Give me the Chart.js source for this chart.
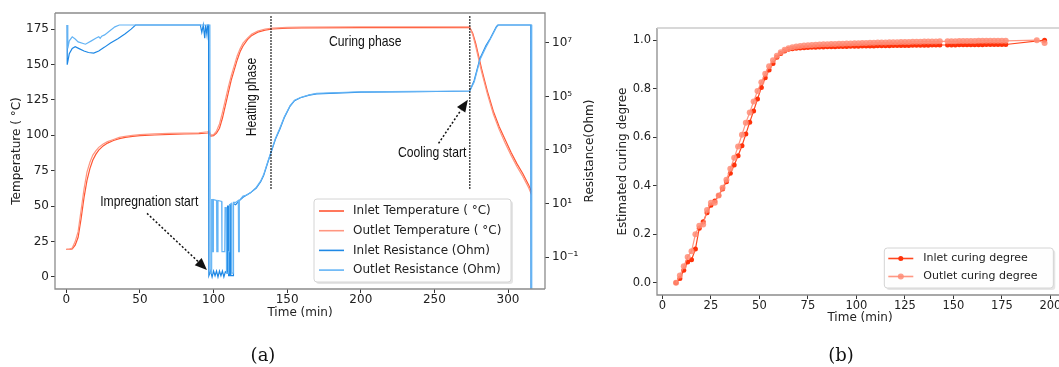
<!DOCTYPE html>
<html>
<head>
<meta charset="utf-8">
<script src="https://cdn.jsdelivr.net/npm/chart.js@4.4.0/dist/chart.umd.min.js"></script>
<style>
  html, body { margin: 0; padding: 0; background: #fff; }
  body { width: 1059px; height: 367px; overflow: hidden; position: relative; }
  #panelA { position: absolute; left: 0; top: 0; width: 600px; height: 367px; }
  #panelB { position: absolute; left: 600px; top: 0; width: 480px; height: 367px; }
  .caption { position: absolute; top: 344px; font-family: 'DejaVu Serif', 'Liberation Serif', serif; font-size: 18px; color: #111; transform: translateX(-50%); }
</style>
</head>
<body>
<div id="panelA"><canvas id="chartA" width="600" height="367"></canvas></div>
<div id="panelB"><canvas id="chartB" width="480" height="367"></canvas></div>
<div class="caption" style="left:263px">(a)</div>
<div class="caption" style="left:841px">(b)</div>
<script>
// ---- (a) temperature, min / deg C ----
const tempTime = [0, 2, 4, 6, 8, 10, 12, 14, 16, 18,
  20, 22, 25, 28, 32, 36, 40, 45, 50, 60,
  70, 80, 90, 96, 97, 98, 100, 102, 104, 106,
  108, 110, 112, 114, 116, 118, 120, 123, 126, 130,
  135, 140, 150, 160, 200, 240, 274, 276, 278, 280,
  282, 284, 286, 290, 294, 298, 302, 306, 310, 314, 316];
const inletTemp = [19.5, 19.5, 19.8, 22.5, 28, 41, 56, 68, 76.5, 82.5,
  86.5, 89.5, 92.5, 94.5, 96.3, 97.6, 98.5, 99.2, 99.7, 100.2,
  100.6, 100.9, 101.2, 101.6, 102, 99.5, 99.8, 101.5, 105, 112,
  121, 130, 139, 146, 153, 159, 163, 167.5, 170.5, 172.8,
  174.2, 175, 175.6, 175.8, 176, 176, 176, 172, 165, 156,
  147, 139, 131, 117, 106, 97, 88, 80, 73, 65, 60];
const outletTemp = [19.5, 19.5, 20.5, 25, 32, 47, 62, 74, 81, 86,
  89, 91.5, 93.8, 95.5, 97, 98.5, 99.3, 100, 100.5, 101,
  101.3, 101.5, 101.8, 102.5, 103, 100.3, 100.5, 103, 108, 116,
  125, 134, 142, 149, 156, 161, 165, 168.5, 171.5, 173.5,
  175, 175.6, 176.2, 176.4, 176.6, 176.6, 176.5, 171, 163, 154,
  145, 137, 129, 115, 104, 94.5, 86, 78, 71, 63, 58];

// ---- (a) resistance, min / Ohm ----
const inletResTime = [0.5, 0.6, 2, 4, 6, 9, 12, 15, 18.6, 22,
  26, 30, 35, 40, 44, 47, 91, 92, 93, 94,
  94.6, 95.5, 96, 96.6, 96.8, 98, 99, 100, 101, 102,
  103, 104, 105, 106, 107, 108, 109.3, 109.5, 110, 110.2,
  110.8, 111, 111.5, 111.7, 113.3, 113.5, 115, 117, 120, 125,
  129, 132, 134, 136.5, 139, 142, 145, 148, 152, 155,
  159, 165, 170, 200, 240, 274, 277, 281, 285, 288,
  292, 293, 315.5, 315.6];
const inletRes = [4.7e7, 1.55e6, 4e6, 6.3e6, 7.2e6, 6e6, 5e6, 4.4e6, 4.2e6, 5e6,
  7e6, 1e7, 1.45e7, 2.2e7, 3.3e7, 4.7e7, 4.7e7, 2.5e7, 4.7e7, 1.5e7,
  4.7e7, 2e7, 4.7e7, 4.7e7, 0.02, 0.03, 0.018, 0.03, 0.02, 0.03,
  0.018, 0.03, 0.02, 0.03, 0.018, 0.028, 0.025, 8, 8, 0.02,
  0.02, 9, 9, 0.02, 0.02, 10, 9, 12, 17, 25,
  38, 65, 110, 300, 800, 2500, 6000, 1.6e4, 4.4e4, 7e4,
  9e4, 1.12e5, 1.26e5, 1.45e5, 1.5e5, 1.6e5, 4e5, 2.7e6, 8e6, 1.5e7,
  4e7, 4.7e7, 4.7e7, 1e-3];
const outletResTime = [0.8, 1, 2, 4, 6, 8, 13, 17, 20, 22,
  23, 24, 26, 30, 33, 36, 97.5, 97.7, 98.5, 98.7,
  99.1, 99.3, 99.7, 99.9, 102, 102.2, 102.8, 103, 105.5, 105.7,
  107.6, 107.8, 108.6, 108.8, 110, 110.2, 110.6, 110.8, 112, 112.3,
  113.2, 113.5, 115, 116.8, 117, 117.3, 117.5, 120, 122, 125,
  129, 132, 134, 136.5, 139, 142, 145, 148, 152, 155,
  159, 165, 170, 200, 240, 274, 277, 281, 285, 288,
  292, 293.5, 316, 316.1];
const outletRes = [4.7e7, 6.3e6, 1.2e7, 1.7e7, 1.4e7, 1.1e7, 9e6, 1.2e7, 1.5e7, 1.7e7,
  1.5e7, 1.8e7, 2e7, 3e7, 4e7, 4.7e7, 4.7e7, 0.025, 0.025, 14,
  14, 0.16, 0.16, 14, 13, 0.16, 0.16, 13, 12, 0.16,
  0.16, 7, 7, 0.025, 0.025, 0.16, 0.16, 9, 10, 0.025,
  0.025, 11, 11, 13, 0.16, 0.16, 13, 19, 20, 25,
  40, 70, 120, 320, 850, 2700, 6500, 1.7e4, 4.6e4, 7.2e4,
  9.2e4, 1.15e5, 1.3e5, 1.5e5, 1.55e5, 1.6e5, 3.5e5, 2.4e6, 7e6, 1.4e7,
  3.8e7, 4.7e7, 4.7e7, 1e-3];

const timeTicksA = [0, 50, 100, 150, 200, 250, 300];
const tempTicks = [0, 25, 50, 75, 100, 125, 150, 175];
const resTicks = [0.1, 10, 1e3, 1e5, 1e7];
const resTickLabels = ['10\u207B\u00B9', '10\u00B9', '10\u00B3', '10\u2075', '10\u2077'];
const phaseLines = [139, 274];

// ---- (b) curing degree ----
const curingTime = [7, 9, 11, 13, 15, 17, 19, 21, 23, 25,
  27, 29, 31, 33, 35, 37, 39, 41, 43, 45,
  47, 49, 51, 53, 55, 57, 59, 61, 63, 65,
  67, 69, 71, 73, 75, 77, 79, 81, 83, 85,
  87, 89, 91, 93, 95, 97, 99, 101, 103, 105,
  107, 109, 111, 113, 115, 117, 119, 121, 123, 125,
  127, 129, 131, 133, 135, 137, 139, 141, 143, 147,
  149, 151, 153, 155, 157, 159, 161, 163, 165, 167,
  169, 171, 173, 175, 177, 193, 197];
const inletCuring = [0.000, 0.018, 0.052, 0.086, 0.095, 0.139, 0.225, 0.252, 0.289, 0.320,
  0.337, 0.360, 0.387, 0.417, 0.452, 0.486, 0.524, 0.565, 0.613, 0.662,
  0.708, 0.757, 0.805, 0.845, 0.877, 0.904, 0.929, 0.945, 0.955, 0.962,
  0.965, 0.967, 0.968, 0.969, 0.970, 0.971, 0.971, 0.972, 0.972, 0.973,
  0.973, 0.973, 0.974, 0.974, 0.974, 0.975, 0.975, 0.975, 0.976, 0.976,
  0.976, 0.976, 0.977, 0.977, 0.977, 0.977, 0.978, 0.978, 0.978, 0.978,
  0.978, 0.979, 0.979, 0.979, 0.979, 0.979, 0.980, 0.980, 0.980, 0.980,
  0.980, 0.980, 0.981, 0.981, 0.981, 0.981, 0.981, 0.981, 0.981, 0.982,
  0.982, 0.982, 0.982, 0.982, 0.982, null, 1.000];
const outletCuring = [0.000, 0.030, 0.068, 0.107, 0.130, 0.200, 0.235, 0.240, 0.300, 0.330,
  0.330, 0.360, 0.392, 0.425, 0.470, 0.515, 0.562, 0.610, 0.660, 0.702,
  0.747, 0.790, 0.827, 0.862, 0.892, 0.917, 0.936, 0.950, 0.960, 0.967,
  0.971, 0.974, 0.976, 0.978, 0.979, 0.980, 0.981, 0.982, 0.983, 0.983,
  0.984, 0.984, 0.985, 0.985, 0.986, 0.986, 0.987, 0.987, 0.988, 0.988,
  0.989, 0.989, 0.990, 0.990, 0.990, 0.991, 0.991, 0.991, 0.992, 0.992,
  0.992, 0.993, 0.993, 0.993, 0.994, 0.994, 0.994, 0.994, 0.995, 0.995,
  0.995, 0.995, 0.996, 0.996, 0.996, 0.996, 0.996, 0.997, 0.997, 0.997,
  0.997, 0.997, 0.997, 0.997, 0.997, 1.000, 0.988];
const timeTicksB = [0, 25, 50, 75, 100, 125, 150, 175, 200];
const curingTicks = [0, 0.2, 0.4, 0.6, 0.8, 1.0];
const curingTickLabels = ['0.0', '0.2', '0.4', '0.6', '0.8', '1.0'];

Chart.defaults.font.family = "'DejaVu Sans', sans-serif";
Chart.defaults.color = '#222';
Chart.defaults.animation = false;

// no narrow face installed, so squeeze Liberation Sans sideways
const noteFont = "14.5px 'Liberation Sans', Arial, sans-serif";
const noteSqueeze = 0.84;

function pairs(xs, ys) {
    return xs.map((x, i) => ({ x: x, y: ys[i] }));
}

function fixedTicks(values) {
    return function (scale) {
        scale.ticks = values.map(v => ({ value: v }));
    };
}

function axisLook(size) {
    return {
        grid: { display: true, drawOnChartArea: false, drawTicks: true, tickLength: 4, tickColor: '#333', color: '#333' },
        border: { display: false },
        ticks: { font: { size: size }, color: '#222', autoSkip: false, maxRotation: 0, padding: 2 }
    };
}

function roundRect(ctx, x, y, w, h, r) {
    ctx.beginPath();
    ctx.moveTo(x + r, y);
    ctx.lineTo(x + w - r, y);
    ctx.arcTo(x + w, y, x + w, y + r, r);
    ctx.lineTo(x + w, y + h - r);
    ctx.arcTo(x + w, y + h, x + w - r, y + h, r);
    ctx.lineTo(x + r, y + h);
    ctx.arcTo(x, y + h, x, y + h - r, r);
    ctx.lineTo(x, y + r);
    ctx.arcTo(x, y, x + r, y, r);
    ctx.closePath();
}

// frame round the plot area plus an in-plot legend
const frameLegend = {
    id: 'frameLegend',
    afterDraw(chart, args, opts) {
        const { ctx, chartArea: a } = chart;
        ctx.save();
        ctx.lineWidth = 1.3;
        ctx.strokeStyle = opts.sideColor;
        ctx.beginPath();
        ctx.moveTo(a.left, a.top); ctx.lineTo(a.left, a.bottom); ctx.lineTo(a.right, a.bottom);
        ctx.stroke();
        ctx.strokeStyle = opts.topColor;
        ctx.beginPath();
        ctx.moveTo(a.left, a.top); ctx.lineTo(a.right, a.top); ctx.lineTo(a.right, a.bottom);
        ctx.stroke();

        const lg = opts.legend;
        const left = a.right - lg.right - lg.width;
        const top = a.bottom - lg.bottom - lg.height;
        ctx.fillStyle = 'rgba(0,0,0,0.10)';
        roundRect(ctx, left + 2, top + 2, lg.width, lg.height, 3);
        ctx.fill();
        ctx.fillStyle = 'rgba(255,255,255,0.96)';
        ctx.strokeStyle = '#d4d4d4';
        ctx.lineWidth = 1;
        roundRect(ctx, left, top, lg.width, lg.height, 3);
        ctx.fill();
        ctx.stroke();
        chart.data.datasets.forEach((d, i) => {
            const yy = top + lg.first + i * lg.rowH;
            ctx.strokeStyle = d.borderColor;
            ctx.lineWidth = 1.6;
            ctx.beginPath();
            ctx.moveTo(left + lg.x0, yy);
            ctx.lineTo(left + lg.x1, yy);
            ctx.stroke();
            if (d.pointRadius) {
                ctx.fillStyle = d.pointBackgroundColor;
                ctx.beginPath();
                ctx.arc(left + (lg.x0 + lg.x1) / 2, yy, d.pointRadius, 0, Math.PI * 2);
                ctx.fill();
            }
            ctx.fillStyle = '#222';
            ctx.font = lg.font;
            ctx.textBaseline = 'middle';
            ctx.textAlign = 'left';
            ctx.fillText(d.label, left + lg.textX, yy);
        });
        ctx.restore();
    }
};

function dottedArrow(ctx, x1, y1, x2, y2) {
    const ang = Math.atan2(y2 - y1, x2 - x1);
    const head = 12, half = 5;
    const bx = x2 - head * Math.cos(ang), by = y2 - head * Math.sin(ang);
    ctx.setLineDash([2, 2]);
    ctx.beginPath();
    ctx.moveTo(x1, y1);
    ctx.lineTo(bx, by);
    ctx.stroke();
    ctx.setLineDash([]);
    ctx.beginPath();
    ctx.moveTo(x2, y2);
    ctx.lineTo(bx + half * Math.sin(ang), by - half * Math.cos(ang));
    ctx.lineTo(bx - half * Math.sin(ang), by + half * Math.cos(ang));
    ctx.closePath();
    ctx.fill();
}

function noteText(ctx, text, x, y, angle) {
    ctx.save();
    ctx.translate(x, y);
    ctx.rotate(angle || 0);
    ctx.scale(noteSqueeze, 1);
    ctx.fillText(text, 0, 0);
    ctx.restore();
}

// phase lines, notes and arrows of panel (a), placed in data units
const notesA = {
    id: 'notesA',
    afterDatasetsDraw(chart) {
        const { ctx, chartArea: a } = chart;
        const xs = chart.scales.x, ys = chart.scales.y;
        const px = t => xs.getPixelForValue(t), py = v => ys.getPixelForValue(v);
        ctx.save();
        ctx.strokeStyle = '#111';
        ctx.fillStyle = '#111';
        ctx.lineWidth = 1.5;
        ctx.setLineDash([1.5, 1.5]);
        phaseLines.forEach(t => {
            ctx.beginPath();
            ctx.moveTo(px(t), py(184));
            ctx.lineTo(px(t), py(62));
            ctx.stroke();
        });
        ctx.setLineDash([]);
        dottedArrow(ctx, px(54.8), py(44.9), px(95.5), py(5));
        dottedArrow(ctx, px(252.8), py(94.3), px(272.7), py(125));

        ctx.font = noteFont;
        ctx.textAlign = 'center';
        ctx.textBaseline = 'middle';
        noteText(ctx, 'Impregnation start', px(56.3), py(53));
        noteText(ctx, 'Curing phase', px(203), py(165.8));
        noteText(ctx, 'Cooling start', px(248.5), py(87.5));
        noteText(ctx, 'Heating phase', px(126.3), py(127), -Math.PI / 2);

        // right axis title, reading bottom to top
        ctx.font = "12px 'DejaVu Sans', sans-serif";
        ctx.fillStyle = '#222';
        ctx.translate(590, (a.top + a.bottom) / 2);
        ctx.rotate(-Math.PI / 2);
        ctx.fillText('Resistance(Ohm)', 0, 0);
        ctx.restore();
    }
};

const lookA = axisLook(12);
new Chart(document.getElementById('chartA'), {
    type: 'line',
    data: {
        datasets: [
            { label: 'Inlet Temperature ( \u00B0C)', data: pairs(tempTime, inletTemp), yAxisID: 'y',
              borderColor: 'rgb(255, 85, 50)', borderWidth: 1.2, pointRadius: 0, order: 3 },
            { label: 'Outlet Temperature ( \u00B0C)', data: pairs(tempTime, outletTemp), yAxisID: 'y',
              borderColor: 'rgb(255, 150, 128)', borderWidth: 1.2, pointRadius: 0, order: 2 },
            { label: 'Inlet Resistance (Ohm)', data: pairs(inletResTime, inletRes), yAxisID: 'yR',
              borderColor: 'rgb(30, 136, 229)', borderWidth: 1.2, pointRadius: 0, order: 1 },
            { label: 'Outlet Resistance (Ohm)', data: pairs(outletResTime, outletRes), yAxisID: 'yR',
              borderColor: 'rgb(100, 180, 245)', borderWidth: 1.2, pointRadius: 0, order: 0 }
        ]
    },
    options: {
        responsive: false,
        layout: { padding: { left: 6, top: 13, right: 0, bottom: 47 } },
        elements: { line: { tension: 0 } },
        plugins: {
            legend: { display: false },
            tooltip: { enabled: false },
            frameLegend: {
                sideColor: '#8c8c8c', topColor: '#8c8c8c',
                legend: { right: 34, bottom: 7, width: 197, height: 83, first: 12, rowH: 19.7,
                          x0: 5, x1: 30, textX: 39, font: "12px 'DejaVu Sans', sans-serif" }
            }
        },
        scales: {
            x: Object.assign({}, lookA, {
                type: 'linear', position: 'bottom', min: -7.7, max: 325.1,
                afterBuildTicks: fixedTicks(timeTicksA),
                afterFit: s => { s.height = 31; },
                ticks: Object.assign({}, lookA.ticks, { padding: 0 }),
                title: { display: true, text: 'Time (min)', font: { size: 12 }, color: '#222', padding: 0 }
            }),
            y: Object.assign({}, lookA, {
                type: 'linear', position: 'left', min: -8.47, max: 186.3,
                afterBuildTicks: fixedTicks(tempTicks),
                afterFit: s => { s.width = 49; },
                title: { display: true, text: 'Temperature ( \u00B0C)', font: { size: 12 }, color: '#222', padding: { top: 4, bottom: 0 } }
            }),
            yR: Object.assign({}, lookA, {
                type: 'logarithmic', position: 'right', min: 0.00637, max: 1.32e8,
                afterBuildTicks: fixedTicks(resTicks),
                afterFit: s => { s.width = 55; },
                ticks: Object.assign({}, lookA.ticks, {
                    padding: 3,
                    callback: v => resTickLabels[resTicks.indexOf(v)]
                })
            })
        }
    },
    plugins: [frameLegend, notesA]
});

const lookB = axisLook(11.5);
new Chart(document.getElementById('chartB'), {
    type: 'line',
    data: {
        datasets: [
            { label: 'Inlet curing degree', data: pairs(curingTime, inletCuring),
              borderColor: 'rgb(255, 70, 30)', backgroundColor: 'rgb(255, 50, 10)', borderWidth: 1.2,
              pointRadius: 2.5, pointBackgroundColor: 'rgb(255, 50, 10)', pointBorderWidth: 0, spanGaps: true, order: 1 },
            { label: 'Outlet curing degree', data: pairs(curingTime, outletCuring),
              borderColor: 'rgba(255, 140, 118, 0.9)', backgroundColor: 'rgba(255, 140, 118, 0.85)', borderWidth: 1.2,
              pointRadius: 3, pointBackgroundColor: 'rgba(255, 140, 118, 0.85)', pointBorderWidth: 0, spanGaps: true, order: 0 }
        ]
    },
    options: {
        responsive: false,
        layout: { padding: { left: 12, top: 28, right: 17, bottom: 42 } },
        elements: { line: { tension: 0 } },
        plugins: {
            legend: { display: false },
            tooltip: { enabled: false },
            frameLegend: {
                sideColor: '#8c8c8c', topColor: '#cccccc',
                legend: { right: 9.7, bottom: 7, width: 169, height: 40, first: 10.5, rowH: 18,
                          x0: 4, x1: 29, textX: 39, font: "11px 'DejaVu Sans', sans-serif" }
            }
        },
        scales: {
            x: Object.assign({}, lookB, {
                type: 'linear', position: 'bottom', min: -2.8, max: 206.5,
                afterBuildTicks: fixedTicks(timeTicksB),
                afterFit: s => { s.height = 30; },
                ticks: Object.assign({}, lookB.ticks, { padding: 0 }),
                title: { display: true, text: 'Time (min)', font: { size: 12 }, color: '#222', padding: 0 }
            }),
            y: Object.assign({}, lookB, {
                type: 'linear', position: 'left', min: -0.05, max: 1.05,
                afterBuildTicks: fixedTicks(curingTicks),
                afterFit: s => { s.width = 45; },
                ticks: Object.assign({}, lookB.ticks, {
                    callback: v => curingTickLabels[curingTicks.indexOf(v)]
                }),
                title: { display: true, text: 'Estimated curing degree', font: { size: 12 }, color: '#222', padding: { top: 4, bottom: 0 } }
            })
        }
    },
    plugins: [frameLegend]
});
</script>
</body>
</html>
